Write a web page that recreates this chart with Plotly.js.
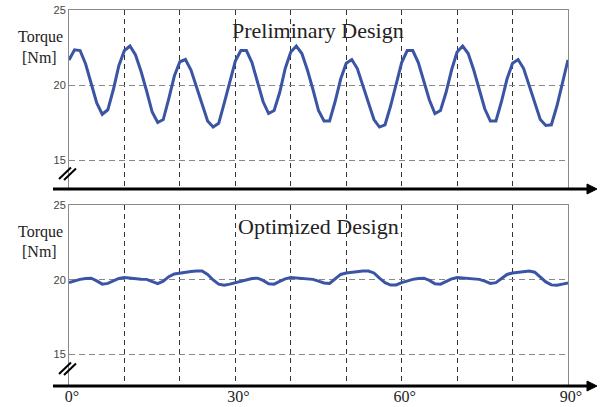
<!DOCTYPE html>
<html>
<head>
<meta charset="utf-8">
<script src="https://cdn.plot.ly/plotly-3.0.1.min.js"></script>
<style>html,body{margin:0;padding:0;background:#fff;}#chart{width:600px;height:407px;}</style>
</head>
<body>
<div id="chart"></div>
<script>
// ---- data ----
var angleDeg = [0,1,2,3,4,5,6,7,8,9,10,11,12,13,14,15,16,17,18,19,20,21,22,23,24,25,26,27,28,29,
  30,31,32,33,34,35,36,37,38,39,40,41,42,43,44,45,46,47,48,49,50,51,52,53,54,55,56,57,58,59,
  60,61,62,63,64,65,66,67,68,69,70,71,72,73,74,75,76,77,78,79,80,81,82,83,84,85,86,87,88,89,90];

var torquePreliminary = [21.67,22.35,22.3,21.4,20.1,18.8,18.05,18.35,19.7,21.3,22.3,22.6,22.0,20.9,19.6,18.2,17.5,17.7,19.1,20.6,21.55,21.7,21.0,19.9,18.7,17.6,17.2,17.45,18.8,20.3,
  21.6,22.3,22.3,21.5,20.2,18.9,18.1,18.3,19.5,21.1,22.2,22.6,22.1,21.0,19.7,18.3,17.6,17.6,18.9,20.4,21.45,21.7,21.1,20.0,18.8,17.7,17.2,17.35,18.6,20.1,
  21.5,22.3,22.3,21.5,20.3,19.0,18.1,18.3,19.5,21.0,22.2,22.6,22.1,21.0,19.7,18.4,17.6,17.6,18.9,20.4,21.45,21.7,21.1,20.0,18.8,17.7,17.3,17.35,18.6,20.1,21.67];

var torqueOptimized = [19.8,19.92,20.02,20.08,20.1,19.92,19.7,19.75,19.92,20.08,20.15,20.1,20.05,20.03,20.02,19.85,19.73,19.9,20.2,20.38,20.45,20.5,20.55,20.58,20.58,20.35,19.98,19.7,19.62,19.7,
  19.8,19.92,20.02,20.08,20.1,19.95,19.72,19.7,19.88,20.05,20.15,20.12,20.06,20.03,20.02,19.9,19.78,19.75,20.05,20.35,20.45,20.5,20.55,20.58,20.58,20.45,20.1,19.8,19.64,19.65,
  19.8,19.92,20.02,20.08,20.1,19.95,19.72,19.7,19.88,20.05,20.15,20.12,20.06,20.03,20.02,19.9,19.75,19.8,20.1,20.35,20.45,20.5,20.55,20.58,20.5,20.2,19.85,19.65,19.62,19.7,19.78];

var gridTicks = [0,10,20,30,40,50,60,70,80,90];
var xTickText = ['0°','','','30°','','','60°','','','90°'];
var yTickVals = [15,20,25];
var yTickText = ['15','20','25'];
var titlePreliminary = 'Preliminary Design';
var titleOptimized = 'Optimized Design';
var yLabelLines = ['Torque','[Nm]'];

// ---- layout helpers (pixel -> paper) ----
var L = 69, R = 32, T = 10, B = 21, W = 600, H = 407;
var pw = W - L - R, ph = H - T - B;
function px(x){ return (x - L) / pw; }
function py(y){ return (H - B - y) / ph; }

var lineColor = '#3b54a4';
var serif = 'Liberation Serif, Times New Roman, serif';

var traces = [
  {x: angleDeg, y: torquePreliminary, xaxis:'x', yaxis:'y', mode:'lines',
   line:{color:lineColor, width:3}, hoverinfo:'skip'},
  {x: angleDeg, y: torqueOptimized, xaxis:'x2', yaxis:'y2', mode:'lines',
   line:{color:lineColor, width:3}, hoverinfo:'skip'}
];

function xax(showLabels){
  return {range:[0,90], domain:[0,1], tickvals:gridTicks, ticktext:xTickText,
    showticklabels:showLabels, ticks:'', showgrid:true, gridcolor:'#333', griddash:'5px,4px', gridwidth:1,
    zeroline:false, showline:true, mirror:true, linecolor:'#8a8a8a', linewidth:1,
    tickfont:{family:serif, size:16, color:'#222'}, ticklabelshift:3, ticklabelstandoff:-4, fixedrange:true};
}
function yax(range, domain){
  return {range:range, domain:domain, tickvals:yTickVals, ticktext:yTickText, ticks:'',
    showgrid:true, gridcolor:'#888', griddash:'6px,4px', gridwidth:1, zeroline:false,
    showline:true, mirror:true, linecolor:'#8a8a8a', linewidth:1,
    tickfont:{family:'Liberation Sans, Arial, sans-serif', size:11, color:'#444'}, fixedrange:true};
}

var topArrowY = 189, botArrowY = 386;
var shapes = [];
[topArrowY, botArrowY].forEach(function(ay){
  shapes.push({type:'line', xref:'paper', yref:'paper', x0:px(53), x1:px(590), y0:py(ay), y1:py(ay),
    line:{color:'#000', width:3}});
  shapes.push({type:'path', xref:'paper', yref:'paper',
    path:'M '+px(587)+' '+py(ay-5)+' L '+px(597)+' '+py(ay)+' L '+px(587)+' '+py(ay+5)+' Z',
    fillcolor:'#000', line:{color:'#000', width:1}});
});
[179, 374].forEach(function(by){
  shapes.push({type:'line', xref:'paper', yref:'paper', x0:px(59), y0:py(by), x1:px(71), y1:py(by-11.5), line:{color:'#000', width:2}});
  shapes.push({type:'line', xref:'paper', yref:'paper', x0:px(64), y0:py(by+1), x1:px(76), y1:py(by-10.5), line:{color:'#000', width:2}});
});

var annotations = [
  {text:titlePreliminary, xref:'paper', yref:'paper', x:px(318), y:py(30), showarrow:false,
   xanchor:'center', yanchor:'middle', font:{family:serif, size:22, color:'#222'}},
  {text:titleOptimized, xref:'paper', yref:'paper', x:px(318), y:py(226), showarrow:false,
   xanchor:'center', yanchor:'middle', font:{family:serif, size:22, color:'#222'}},
  {text:yLabelLines[0], xref:'paper', yref:'paper', x:px(40), y:py(37), showarrow:false,
   xanchor:'center', yanchor:'middle', font:{family:serif, size:16, color:'#222'}},
  {text:yLabelLines[1], xref:'paper', yref:'paper', x:px(39), y:py(57), showarrow:false,
   xanchor:'center', yanchor:'middle', font:{family:serif, size:16, color:'#222'}},
  {text:yLabelLines[0], xref:'paper', yref:'paper', x:px(40), y:py(232), showarrow:false,
   xanchor:'center', yanchor:'middle', font:{family:serif, size:16, color:'#222'}},
  {text:yLabelLines[1], xref:'paper', yref:'paper', x:px(39), y:py(252), showarrow:false,
   xanchor:'center', yanchor:'middle', font:{family:serif, size:16, color:'#222'}}
];

var layout = {
  width:W, height:H, margin:{l:L, r:R, t:T, b:B},
  paper_bgcolor:'#fff', plot_bgcolor:'#fff', showlegend:false,
  xaxis: Object.assign(xax(false), {anchor:'y'}),
  xaxis2: Object.assign(xax(true), {anchor:'y2'}),
  yaxis: Object.assign(yax([13.07,25],[py(topArrowY),1]), {anchor:'x'}),
  yaxis2: Object.assign(yax([12.88,25],[0,py(205)]), {anchor:'x2'}),
  shapes:shapes, annotations:annotations
};

Plotly.newPlot('chart', traces, layout, {displayModeBar:false, staticPlot:true});
</script>
</body>
</html>
